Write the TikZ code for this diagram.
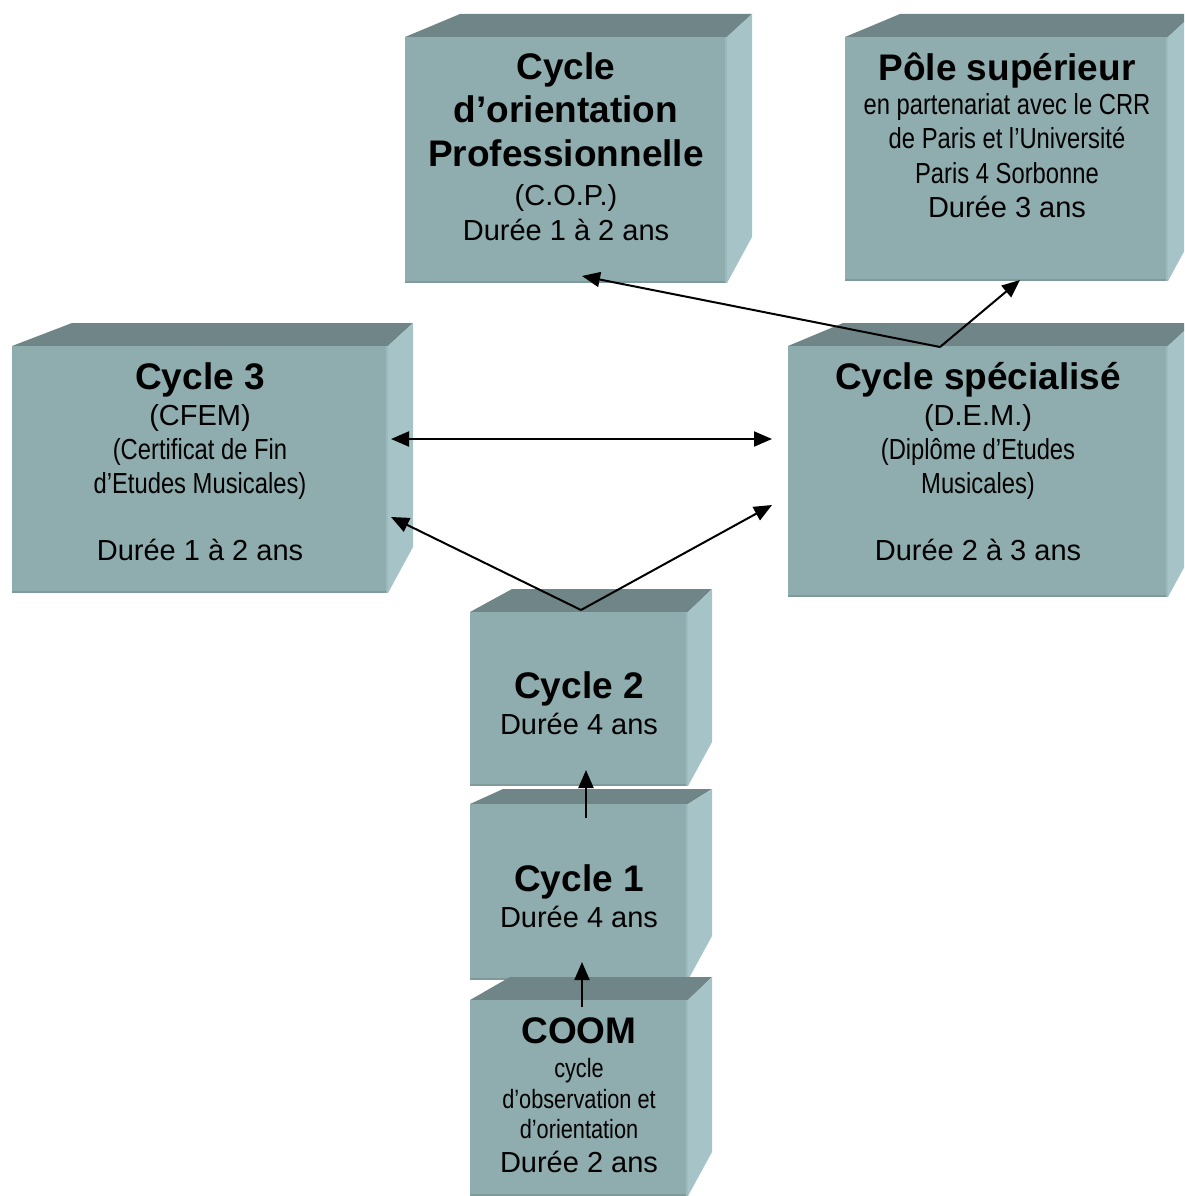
\documentclass[tikz,border=0pt]{standalone}
\usepackage{fontspec}
\setmainfont{Liberation Sans}
\newfontfamily\narrowfont[FakeStretch=0.82]{Liberation Sans}
\usetikzlibrary{arrows.meta}
\definecolor{frontc}{RGB}{143,172,174}
\definecolor{topc}{RGB}{112,133,135}
\definecolor{sidec}{RGB}{166,196,199}
\definecolor{edgec}{RGB}{128,153,155}
\definecolor{lightedge}{RGB}{156,186,189}
\tikzset{
  front/.style={fill=frontc, draw=none, inner sep=0pt, outer sep=0pt},
  bt/.style={anchor=base, inner sep=0pt, font=\fontsize{37}{43}\selectfont\bfseries},
  rt/.style={anchor=base, inner sep=0pt, font=\fontsize{29}{34}\selectfont},
  nt/.style={anchor=base, inner sep=0pt, font=\narrowfont\fontsize{29}{34}\selectfont},
  nts/.style={anchor=base, inner sep=0pt, font=\narrowfont\fontsize{26.5}{30}\selectfont},
  conn/.style={line width=2pt, -{Triangle[length=18pt,width=15pt]}},
  dconn/.style={line width=2pt, {Triangle[length=18pt,width=15pt]}-{Triangle[length=18pt,width=15pt]}}
}
% #1 name, #2 x1, #3 y1, #4 x2, #5 y2, #6 back-left x, #7 back y, #8 side dx, #9 side bottom y
\newcommand\cubebox[9]{%
  \fill[topc] (#2,#3) -- (#6,#7) -- ({#4+#8},#7) -- (#4,#3) -- cycle;
  \fill[sidec] (#4,#3) -- ({#4+#8},#7) -- ({#4+#8},#9) -- (#4,#5) -- cycle;
  \node[front, minimum width={#4-#2}, minimum height={#5-#3}] (#1) at ({(#2+#4)/2},{(#3+#5)/2}) {};
  \fill[edgec] (#2,{#5-2.5}) rectangle (#4,#5);
  \fill[lightedge] ({#4-2},#3) rectangle (#4,#5);
}
\begin{document}
\begin{tikzpicture}[x=1pt,y=-1pt]
\useasboundingbox (0,0) rectangle (1184,1196);
\clip (0,0) rectangle (1184,1196);

% boxes
\cubebox{cop}{405}{37}{727}{283}{460}{14}{25}{237}
\cubebox{pole}{845}{37}{1168}{281}{900}{14}{25}{235}
\cubebox{cyc3}{12}{346}{388}{593}{72}{323}{25}{547}
\cubebox{spe}{788}{346}{1168}{597}{843}{323}{25}{551}
\cubebox{cyc1}{470}{804}{688}{980}{503}{789}{24}{936}
\cubebox{cyc2}{470}{612}{688}{786}{512}{589}{24}{742}
\cubebox{coom}{470}{1000}{688}{1196}{510}{977}{24}{1152}

% texts: COP
\node[bt] (cop1) at (566,80) {Cycle};
\node[bt] (cop2) at (566,123) {d’orientation};
\node[bt] (cop3) at (566,166) {Professionnelle};
\node[rt] (cop4) at (566,205) {(C.O.P.)};
\node[rt] (cop5) at (566,240) {Durée 1 à 2 ans};
% Pole
\node[bt] (pole1) at (1007,81) {Pôle supérieur};
\node[nt] (pole2) at (1007,115) {en partenariat avec le CRR};
\node[nt] (pole3) at (1007,149) {de Paris et l’Université};
\node[nt] (pole4) at (1007,183) {Paris 4 Sorbonne};
\node[rt] (pole5) at (1007,217) {Durée 3 ans};
% Cycle 3
\node[bt] (c31) at (200,389) {Cycle 3};
\node[rt] (c32) at (200,425) {(CFEM)};
\node[nt] (c33) at (200,459) {(Certificat de Fin};
\node[nt] (c34) at (200,493) {d’Etudes Musicales)};
\node[rt] (c35) at (200,560) {Durée 1 à 2 ans};
% Cycle specialise
\node[bt] (sp1) at (978,389) {Cycle spécialisé};
\node[rt] (sp2) at (978,425) {(D.E.M.)};
\node[nt] (sp3) at (978,459) {(Diplôme d’Etudes};
\node[nt] (sp4) at (978,493) {Musicales)};
\node[rt] (sp5) at (978,560) {Durée 2 à 3 ans};
% Cycle 2
\node[bt] (c21) at (579,698) {Cycle 2};
\node[rt] (c22) at (579,734) {Durée 4 ans};
% Cycle 1
\node[bt] (c11) at (579,891) {Cycle 1};
\node[rt] (c12) at (579,927) {Durée 4 ans};
% COOM
\node[bt] (co1) at (579,1043) {COOM};
\node[nts] (co2) at (579,1077) {cycle};
\node[nts] (co3) at (579,1108) {d’observation et};
\node[nts] (co4) at (579,1138) {d’orientation};
\node[rt] (co5) at (579,1172) {Durée 2 ans};

% connectors
\draw[conn] ([shift={(3,7)}]coom.north) -- ([shift={(3,-18)}]cyc1.south);
\draw[conn] ([shift={(7,14)}]cyc1.north) -- ([shift={(7,-16)}]cyc2.south);
\coordinate (split) at ([shift={(2,-2)}]cyc2.north);
\draw[conn] (split) -- ([shift={(3,47.5)}]cyc3.east);
\draw[conn] (split) -- ([shift={(-16,33.5)}]spe.west);
\draw[dconn] ([shift={(3,-30.5)}]cyc3.east) -- ([shift={(-16,-32.5)}]spe.west);
\coordinate (fork) at ([shift={(-38,1)}]spe.north);
\draw[conn] (fork) -- ([shift={(16,-7)}]cop.south);
\draw[conn] (fork) -- ([shift={(13.5,-1)}]pole.south);
\end{tikzpicture}
\end{document}
